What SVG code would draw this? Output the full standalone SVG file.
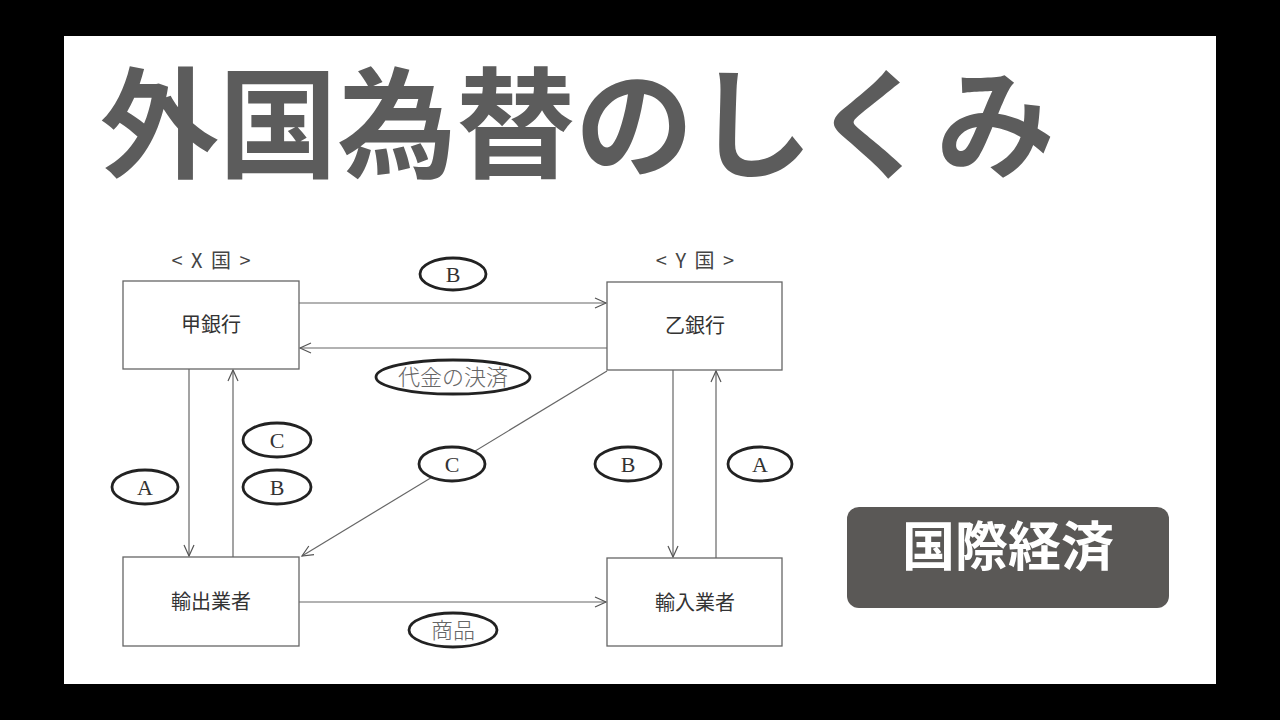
<svg xmlns="http://www.w3.org/2000/svg" width="1280" height="720" viewBox="0 0 1280 720">
<defs>
<marker id="arr" markerUnits="userSpaceOnUse" markerWidth="14" markerHeight="12" refX="12" refY="6" orient="auto">
<path d="M1,1 L12,6 L1,11" fill="none" stroke="#555" stroke-width="1.2"/>
</marker>
</defs>
<style>
.box{fill:#fff;stroke:#666;stroke-width:1.3}
.bt{font-family:"Noto Sans CJK JP","Noto Sans",sans-serif;font-size:20px;fill:#333;text-anchor:middle}
.cl{font-family:"Noto Sans CJK JP","Liberation Sans",sans-serif;font-size:20px;fill:#444;text-anchor:middle;letter-spacing:2px}
.con{stroke:#666;stroke-width:1.2;fill:none}
.ell{fill:#fff;stroke:#222;stroke-width:2.8}
.lt{font-family:"Liberation Serif",serif;font-size:22px;fill:#333;text-anchor:middle}
.jt{font-family:"Noto Sans CJK JP",sans-serif;font-weight:300;font-size:22px;fill:#666;text-anchor:middle}
</style>
<rect width="1280" height="720" fill="#000"/>
<rect x="64" y="36" width="1152" height="648" fill="#fff"/>
<text x="100" y="169" font-family="Noto Sans CJK JP,sans-serif" font-weight="700" font-size="120" fill="#5c5c5c" textLength="955" lengthAdjust="spacingAndGlyphs">外国為替のしくみ</text>

<g id="connectors">
<line class="con" x1="299" y1="303" x2="606" y2="303" marker-end="url(#arr)"/>
<line class="con" x1="607" y1="348" x2="300" y2="348" marker-end="url(#arr)"/>
<line class="con" x1="189" y1="369" x2="189" y2="556" marker-end="url(#arr)"/>
<line class="con" x1="233" y1="557" x2="233" y2="370" marker-end="url(#arr)"/>
<line class="con" x1="607" y1="371" x2="302" y2="556" marker-end="url(#arr)"/>
<line class="con" x1="673" y1="370" x2="673" y2="557" marker-end="url(#arr)"/>
<line class="con" x1="716" y1="558" x2="716" y2="371" marker-end="url(#arr)"/>
<line class="con" x1="299" y1="602" x2="606" y2="602" marker-end="url(#arr)"/>
</g>

<g id="label-x"><text class="cl" x="212" y="268">&lt; X 国 &gt;</text></g>
<g id="label-y"><text class="cl" x="696" y="268">&lt; Y 国 &gt;</text></g>

<g id="bank-kou"><rect class="box" x="123" y="281" width="176" height="88"/><text class="bt" x="211" y="332">甲銀行</text></g>
<g id="bank-otsu"><rect class="box" x="607" y="282" width="175" height="88"/><text class="bt" x="695" y="333">乙銀行</text></g>
<g id="exporter"><rect class="box" x="123" y="557" width="176" height="89"/><text class="bt" x="211" y="609">輸出業者</text></g>
<g id="importer"><rect class="box" x="607" y="558" width="175" height="88"/><text class="bt" x="695" y="610">輸入業者</text></g>

<g id="e-b-top"><ellipse class="ell" cx="453" cy="274" rx="33" ry="16"/><text class="lt" x="453" y="282">B</text></g>
<g id="e-daikin"><ellipse class="ell" cx="453" cy="377" rx="77" ry="17"/><text class="jt" x="453" y="385">代金の決済</text></g>
<g id="e-c-left"><ellipse class="ell" cx="277" cy="440" rx="34" ry="17"/><text class="lt" x="277" y="448">C</text></g>
<g id="e-b-left"><ellipse class="ell" cx="277" cy="487" rx="34" ry="17"/><text class="lt" x="277" y="495">B</text></g>
<g id="e-a-left"><ellipse class="ell" cx="145" cy="487" rx="33" ry="17"/><text class="lt" x="145" y="495">A</text></g>
<g id="e-c-diag"><ellipse class="ell" cx="452" cy="464" rx="33" ry="17"/><text class="lt" x="452" y="472">C</text></g>
<g id="e-b-right"><ellipse class="ell" cx="628" cy="464" rx="33" ry="17"/><text class="lt" x="628" y="472">B</text></g>
<g id="e-a-right"><ellipse class="ell" cx="760" cy="464" rx="32" ry="17"/><text class="lt" x="760" y="472">A</text></g>
<g id="e-shohin"><ellipse class="ell" cx="453" cy="630" rx="44" ry="17"/><text class="jt" x="453" y="638">商品</text></g>

<g id="badge">
<rect x="847" y="507" width="322" height="101" rx="12" fill="#5a5856"/>
<text x="1008" y="566" font-family="Noto Sans CJK JP,sans-serif" font-weight="700" font-size="53" fill="#fff" text-anchor="middle">国際経済</text>
</g>
</svg>
